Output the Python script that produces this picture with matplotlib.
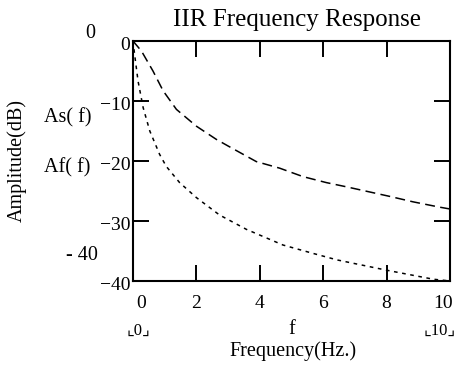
import matplotlib
matplotlib.use('Agg')
import matplotlib.pyplot as plt
from matplotlib.transforms import ScaledTranslation

# Datos (f en Hz, amplitud en dB)
f_as = [0, 0.27, 0.63, 0.95, 1.37, 2.0, 2.63, 3.0, 3.89, 4.63, 5.36, 6.1, 6.73, 8.1, 8.83, 9.68, 10]
as_db = [0, -1.7, -5.0, -8.3, -11.4, -14.2, -16.4, -17.5, -20.1, -21.2, -22.6, -23.6, -24.3, -25.9, -26.8, -27.7, -28.0]

f_af = [0, 0.05, 0.16, 0.32, 0.53, 0.84, 1.05, 1.47, 2.0, 2.73, 3.58, 4.73, 5.68, 6.45, 8.0, 9.47, 10]
af_db = [0, -2.2, -6.7, -11.1, -15.0, -18.9, -20.9, -23.6, -26.1, -29.0, -31.4, -34.0, -35.4, -36.5, -38.2, -39.7, -40.0]

x_ticks = [0, 2, 4, 6, 8, 10]
y_ticks = [0, -10, -20, -30, -40]

W, H = 456, 373
fuente = ['Liberation Serif', 'DejaVu Sans']
plt.rcParams['font.family'] = fuente

fig = plt.figure(figsize=(W / 100, H / 100), dpi=100)
ax = fig.add_axes([133 / W, 1 - 281 / H, (450 - 133) / W, (281 - 41) / H])

#Curvas
ax.plot(f_as, as_db, color='black', lw=1.1, dashes=[6.5, 3.5])
ax.plot(f_af, af_db, color='black', lw=1.1, dashes=[2.4, 3])

ax.set_xlim(0, 10)
ax.set_ylim(-40, 0)
ax.set_xticks(x_ticks)
ax.set_yticks(y_ticks)
ax.set_yticklabels(['0', '\u221210', '\u221220', '\u221230', '\u221240'])
ax.tick_params(direction='in', length=11.5, width=1.4, top=True, right=True,
               labelsize=14, color='black')
ax.tick_params(axis='x', pad=10)
ax.tick_params(axis='y', pad=2)
for s in ax.spines.values():
    s.set_linewidth(1.5)

# Desplazamientos tipo Mathcad (en pixeles)
def mover(t, dx, dy):
    t.set_transform(t.get_transform() + ScaledTranslation(dx / 100, dy / 100, fig.dpi_scale_trans))

xl = ax.get_xticklabels()
mover(xl[0], 8, 0)
mover(xl[-1], -7, 0)
for t in ax.get_yticklabels():
    mover(t, 0, -3)

#Textos sueltos (coordenadas en pixeles)
def txt(x, y, s, size=14.5, **kw):
    fig.text(x / W, 1 - y / H, s, fontsize=size, ha='center', va='center', **kw)

txt(297, 20, 'IIR Frequency Response', size=18)
txt(90, 34, '0')
txt(82, 256, '- 40')
txt(68, 118, 'As( f)')
txt(67, 168, 'Af( f)')
txt(17, 160, 'Amplitude(dB)', rotation=90)
txt(138, 331, '\u231e0\u231f', size=12)
txt(292, 330, 'f')
txt(440, 331, '\u231e10\u231f', size=12)
txt(293, 351, 'Frequency(Hz.)')

fig.savefig('out.png', dpi=100)
